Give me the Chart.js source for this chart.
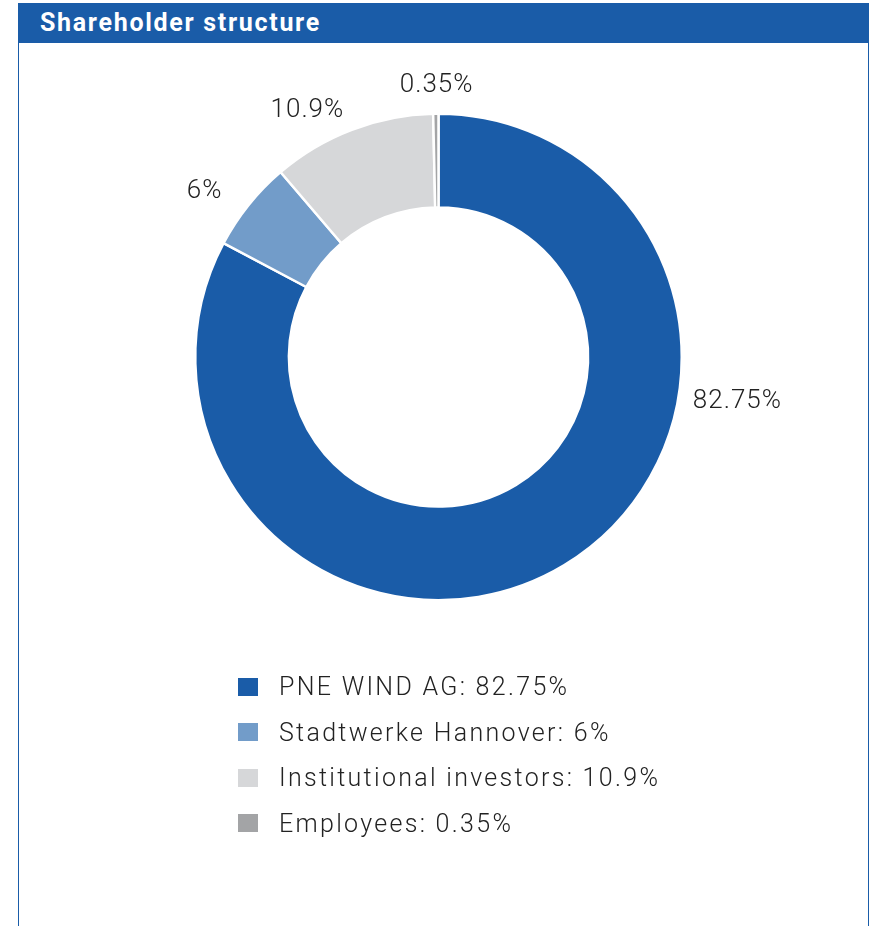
<!DOCTYPE html>
<html>
<head>
<meta charset="utf-8">
<script src="https://cdn.jsdelivr.net/npm/chart.js@4.4.1/dist/chart.umd.min.js"></script>
<style>
  html, body { margin: 0; padding: 0; background: #fff; }
  body { width: 870px; height: 926px; position: relative; overflow: hidden; font-family: Roboto, "DejaVu Sans", sans-serif; }
  .header {
    position: absolute; left: 18px; top: 3px; width: 851px; height: 40px;
    background: #1a5ca8; color: #fff; font-weight: 700; font-size: 25px;
    line-height: 40px; padding-left: 22px; box-sizing: border-box; letter-spacing: 1.7px;
  }
  .box {
    position: absolute; left: 18px; top: 43px; width: 851px; height: 900px;
    border-left: 1px solid #1a5ca8; border-right: 1px solid #1a5ca8; box-sizing: border-box;
  }
  .chart-wrap { position: absolute; left: 0; top: 47px; width: 870px; height: 620px; }
  #legend { position: absolute; left: 238px; top: 664px; list-style: none; margin: 0; padding: 0; }
  #legend li { height: 45.5px; display: flex; align-items: center; font-size: 25px; color: #222; font-weight: 300; letter-spacing: 2.3px; }
  #legend span.sw { width: 20px; height: 18px; margin-right: 21px; display: inline-block; }
</style>
</head>
<body>
<div class="header">Shareholder structure</div>
<div class="box"></div>
<div class="chart-wrap"><canvas id="myChart" width="870" height="620"></canvas></div>
<ul id="legend"></ul>
<script>
var labels = ['PNE WIND AG', 'Stadtwerke Hannover', 'Institutional investors', 'Employees'];
var shares = [82.75, 6, 10.9, 0.35];
var valueText = ['82.75%', '6%', '10.9%', '0.35%'];
var colors = ['#1a5ca8', '#729cc9', '#d6d7d9', '#a3a4a6'];

// percentage labels outside the ring
var labelPlugin = {
  id: 'outsideLabels',
  afterDatasetsDraw: function(chart, args, opts) {
    var ctx = chart.ctx;
    var meta = chart.getDatasetMeta(0);
    ctx.save();
    ctx.font = '300 26px Roboto';
    ctx.letterSpacing = '1px';
    ctx.fillStyle = '#222';
    ctx.textAlign = 'center';
    ctx.textBaseline = 'middle';
    meta.data.forEach(function(arc, i) {
      var p = arc.getProps(['x', 'y', 'startAngle', 'endAngle', 'outerRadius'], true);
      var a = opts.angles[i] != null ? opts.angles[i] * Math.PI / 180 : (p.startAngle + p.endAngle) / 2;
      var r = p.outerRadius + opts.offsets[i];
      ctx.fillText(valueText[i], p.x + Math.cos(a) * r, p.y + Math.sin(a) * r);
    });
    ctx.restore();
  }
};

var ctx = document.getElementById('myChart');
var chart = new Chart(ctx, {
  type: 'doughnut',
  data: {
    labels: labels,
    datasets: [{
      data: shares,
      backgroundColor: colors,
      borderColor: '#fff',
      borderWidth: 2.5
    }]
  },
  options: {
    responsive: false,
    animation: false,
    cutout: '61.5%',
    layout: { padding: { left: 194, right: 187, top: 65, bottom: 65 } },
    plugins: {
      legend: { display: false },
      tooltip: { enabled: false },
      outsideLabels: { angles: [8.5, 215.2, 242, 269.6], offsets: [59, 43, 36, 28] }
    }
  },
  plugins: [labelPlugin]
});

var ul = document.getElementById('legend');
labels.forEach(function(l, i) {
  var li = document.createElement('li');
  li.innerHTML = '<span class="sw" style="background:' + colors[i] + '"></span>' + l + ': ' + valueText[i];
  ul.appendChild(li);
});
</script>
</body>
</html>
